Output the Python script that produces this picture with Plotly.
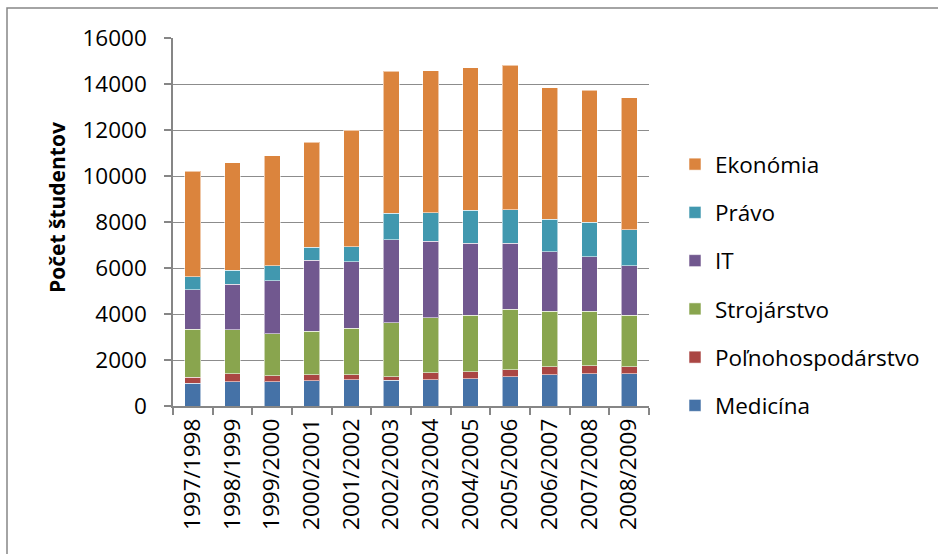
import plotly.graph_objects as go

years = ["1997/1998", "1998/1999", "1999/2000", "2000/2001", "2001/2002", "2002/2003",
         "2003/2004", "2004/2005", "2005/2006", "2006/2007", "2007/2008", "2008/2009"]

# values per field (number of students)
medicina = [1000, 1045, 1060, 1090, 1150, 1120, 1150, 1190, 1280, 1365, 1410, 1410]
polnohospodarstvo = [260, 350, 250, 260, 215, 145, 290, 305, 290, 335, 335, 290]
strojarstvo = [2080, 1915, 1840, 1890, 2020, 2350, 2395, 2455, 2640, 2425, 2380, 2250]
it = [1710, 1990, 2295, 3105, 2890, 3615, 3325, 3120, 2875, 2585, 2365, 2150]
pravo = [580, 595, 655, 565, 655, 1150, 1250, 1450, 1440, 1410, 1510, 1570]
ekonomia = [4575, 4690, 4790, 4560, 5065, 6170, 6170, 6185, 6285, 5720, 5720, 5735]

series = [
    ("Medicína", medicina, "#4572A7"),
    ("Poľnohospodárstvo", polnohospodarstvo, "#AA4643"),
    ("Strojárstvo", strojarstvo, "#89A54E"),
    ("IT", it, "#71588F"),
    ("Právo", pravo, "#4198AF"),
    ("Ekonómia", ekonomia, "#DB843D"),
]

fig = go.Figure()
n = len(series)
for i, (name, vals, color) in enumerate(series):
    fig.add_trace(go.Bar(
        x=years, y=vals, name=name, legendgroup=name, legendrank=n - i,
        marker=dict(color=color, line=dict(color="rgba(255,255,255,0.55)", width=1)),
    ))

W, H = 938, 554
L, R, T, B = 173, 938 - 649, 38, 554 - 406
pw, ph = W - L - R, H - T - B

font = "Open Sans"
fs = 22.5
fig.update_layout(
    width=W, height=H,
    margin=dict(l=L, r=R, t=T, b=B, pad=0),
    barmode="stack", bargap=0.6,
    plot_bgcolor="white", paper_bgcolor="white",
    font=dict(family=font, size=fs, color="black"),
    showlegend=True,
    legend=dict(
        traceorder="grouped", tracegroupgap=16,
        x=(675 - L) / pw, xanchor="left",
        y=1 - (143 - T) / ph, yanchor="top",
        font=dict(family=font, size=fs, color="black"),
        bgcolor="rgba(0,0,0,0)",
    ),
    xaxis=dict(
        type="category", tickangle=-90, showline=True, linecolor="#868686", linewidth=1.5,
        ticks="outside", tickson="boundaries", ticklen=7, tickcolor="#868686", tickwidth=1.5,
        showgrid=False, tickfont=dict(family=font, size=fs), ticklabelstandoff=2,
    ),
    yaxis=dict(
        range=[0, 16000], dtick=2000, tickformat="d", showline=True, linecolor="#868686", linewidth=1.5,
        ticks="outside", ticklen=7, tickcolor="#868686", tickwidth=1.5,
        showgrid=True, gridcolor="#8c8c8c", gridwidth=1.3, zeroline=False,
        tickfont=dict(family=font, size=fs), ticklabelstandoff=13,
    ),
    annotations=[dict(
        text="<b>Počet študentov</b>", textangle=-90,
        xref="paper", yref="paper",
        x=(57 - L) / pw, y=(406 - 208) / ph, xanchor="center", yanchor="middle",
        showarrow=False, font=dict(family=font, size=21, color="black"),
    )],
    shapes=[dict(
        type="rect", xref="paper", yref="paper",
        x0=(7 - L) / pw, y0=-1.0, x1=2.0, y1=1 + (T - 8) / ph,
        line=dict(color="#868686", width=1.5), fillcolor="rgba(0,0,0,0)", layer="below",
    )],
)

fig.write_html("out.html", config={"displayModeBar": False},
               post_script="document.body.style.margin='0';")
